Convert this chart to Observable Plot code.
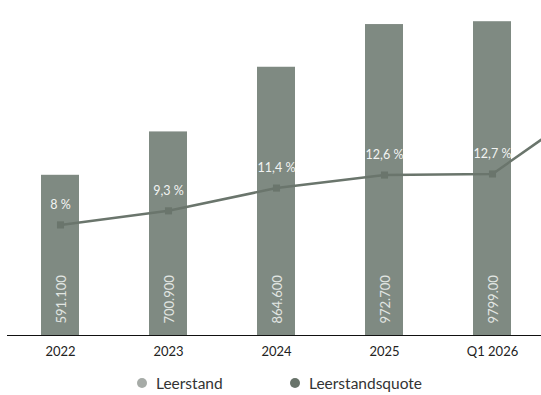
<!DOCTYPE html>
<html>
<head>
<meta charset="utf-8">
<script src="https://cdn.jsdelivr.net/npm/d3@7"></script>
<script src="https://cdn.jsdelivr.net/npm/@observablehq/plot@0.6"></script>
<style>
  html, body { margin: 0; padding: 0; background: #fff; overflow: hidden; }
  #wrap { width: 541px; height: 395px; overflow: hidden; position: relative; font-family: Lato, sans-serif; }
  #chart { width: 541px; height: 370px; overflow: hidden; }
  #chart svg { max-width: none !important; display: block; }
  #legend { position: relative; height: 25px; }
  .item { position: absolute; top: 4px; display: flex; align-items: center; font-size: 15.5px; color: #333; }
  .sw { width: 10px; height: 10px; border-radius: 50%; margin-right: 9px; }
</style>
</head>
<body>
<div id="wrap">
  <div id="chart"></div>
  <div id="legend">
    <div class="item" style="left:137px"><span class="sw" style="background:#a6aba7"></span>Leerstand</div>
    <div class="item" style="left:290px"><span class="sw" style="background:#68736a"></span>Leerstandsquote</div>
  </div>
</div>
<script>
// Categories
const periods = ["2022", "2023", "2024", "2025", "Q1 2026"];
// Leerstand (units)
const leerstand = [591100, 700900, 864600, 972700, 979900];
// Bar labels as printed
const leerstandLabels = ["591.100", "700.900", "864.600", "972.700", "9799.00"];
// Leerstandsquote (%)
const quote = [8, 9.3, 11.4, 12.6, 12.7];
const quoteLabels = ["8 %", "9,3 %", "11,4 %", "12,6 %", "12,7 %"];
// line continues past the cropped right edge (estimated next point)
const tailKey = "next";
const tailQuote = 19.7;

// Axis domains (left: Leerstand, right: Quote, aligned)
const barDomain = [185500, 1033600];
const quoteDomain = [-2.2, 28.7];

const toBarUnits = d3.scaleLinear().domain(quoteDomain).range(barDomain);

const bars = periods.map((p, i) => ({period: p, value: leerstand[i], label: leerstandLabels[i]}));
const pts = periods.map((p, i) => ({period: p, q: quote[i], label: quoteLabels[i]}));
const linePts = [...pts, {period: tailKey, q: tailQuote}];

const barColor = "#7f8a82";
const lineColor = "#6a756c";

const chart = Plot.plot({
  width: 652,
  height: 370,
  marginLeft: 7,
  marginRight: 0,
  marginTop: 0,
  marginBottom: 35,
  style: {fontFamily: "Lato, sans-serif", background: "transparent", maxWidth: "none"},
  x: {domain: [...periods, tailKey], paddingInner: 0.649, paddingOuter: 0.305, align: 0.5, label: null},
  y: {domain: barDomain, axis: null},
  marks: [
    Plot.barY(bars, {x: "period", y: "value", fill: barColor, clip: true}),
    Plot.ruleY([barDomain[0]], {stroke: "#111", strokeWidth: 1.2}),
    Plot.text(bars, {x: "period", y: () => barDomain[0], text: "label", rotate: -90, textAnchor: "start", lineAnchor: "middle", dy: -12, dx: 1, fill: "#e2e6e2", fontSize: 13}),
    Plot.line(linePts, {x: "period", y: d => toBarUnits(d.q), stroke: lineColor, strokeWidth: 2.5}),
    Plot.dot(pts, {x: "period", y: d => toBarUnits(d.q), symbol: "square", r: 4, fill: lineColor, stroke: "none"}),
    Plot.text(pts, {x: "period", y: d => toBarUnits(d.q), text: "label", dy: -20, fill: "#f2f4f2", fontSize: 12.5}),
    Plot.axisX({tickSize: 0, tickPadding: 11, fontSize: 13, color: "#222", tickFormat: d => periods.includes(d) ? d : "", label: null})
  ]
});
document.getElementById("chart").appendChild(chart);
</script>
</body>
</html>
